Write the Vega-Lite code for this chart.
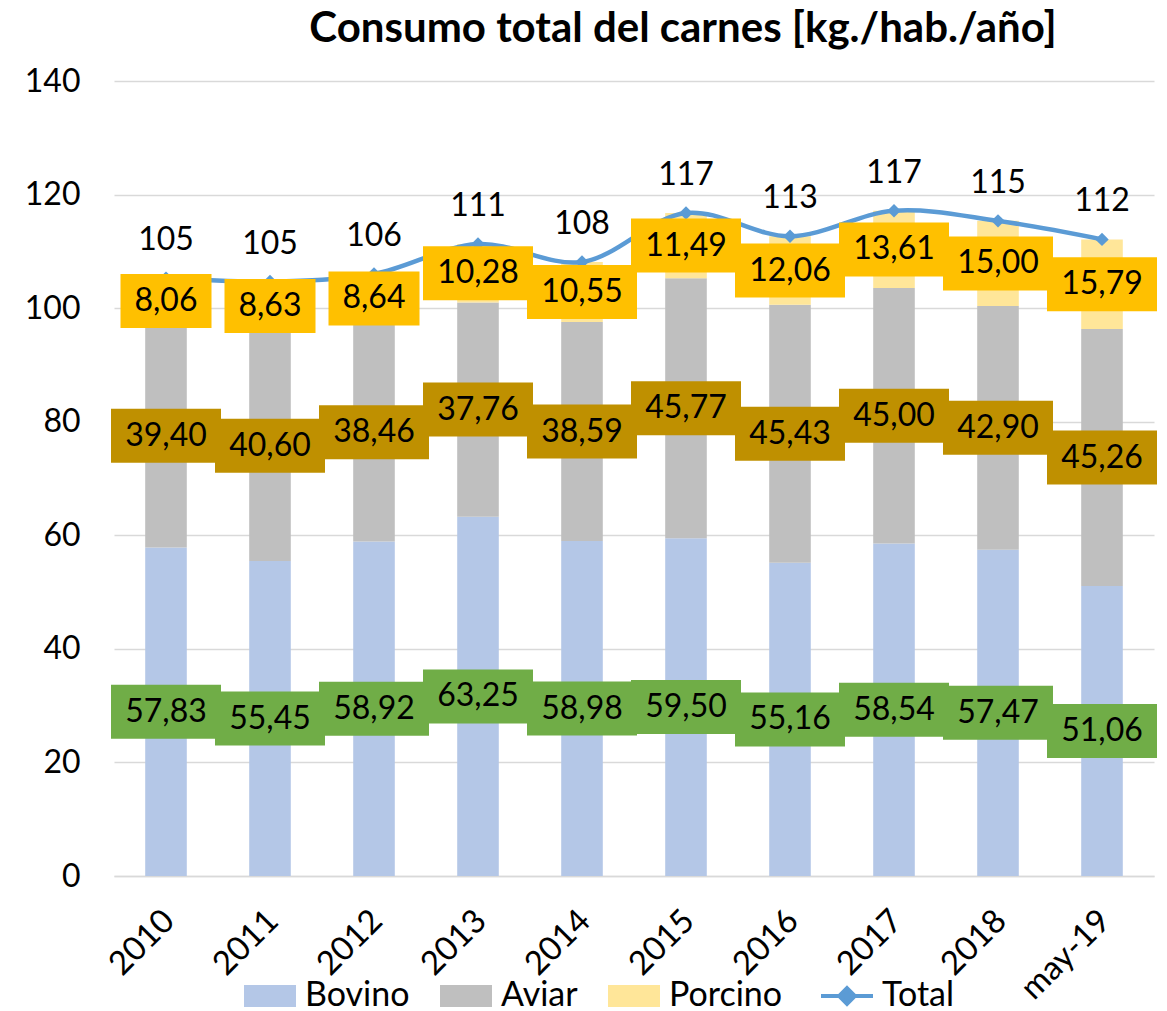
{
  "$schema": "https://vega.github.io/schema/vega-lite/v6.json",
  "width": 1040,
  "height": 795,
  "autosize": {"type": "none"},
  "padding": {"left": 114, "top": 81, "right": 13, "bottom": 135},
  "title": {"text": "Consumo total del carnes [kg./hab./año]", "font": "Lato", "fontSize": 42, "fontWeight": "bold", "color": "#000000", "anchor": "middle", "dx": 49, "offset": 14},
  "data": {"values": [
    {"anio": "2010", "tipo": "Bovino", "v": 57.83}, {"anio": "2010", "tipo": "Aviar", "v": 39.40}, {"anio": "2010", "tipo": "Porcino", "v": 8.06},
    {"anio": "2011", "tipo": "Bovino", "v": 55.45}, {"anio": "2011", "tipo": "Aviar", "v": 40.60}, {"anio": "2011", "tipo": "Porcino", "v": 8.63},
    {"anio": "2012", "tipo": "Bovino", "v": 58.92}, {"anio": "2012", "tipo": "Aviar", "v": 38.46}, {"anio": "2012", "tipo": "Porcino", "v": 8.64},
    {"anio": "2013", "tipo": "Bovino", "v": 63.25}, {"anio": "2013", "tipo": "Aviar", "v": 37.76}, {"anio": "2013", "tipo": "Porcino", "v": 10.28},
    {"anio": "2014", "tipo": "Bovino", "v": 58.98}, {"anio": "2014", "tipo": "Aviar", "v": 38.59}, {"anio": "2014", "tipo": "Porcino", "v": 10.55},
    {"anio": "2015", "tipo": "Bovino", "v": 59.50}, {"anio": "2015", "tipo": "Aviar", "v": 45.77}, {"anio": "2015", "tipo": "Porcino", "v": 11.49},
    {"anio": "2016", "tipo": "Bovino", "v": 55.16}, {"anio": "2016", "tipo": "Aviar", "v": 45.43}, {"anio": "2016", "tipo": "Porcino", "v": 12.06},
    {"anio": "2017", "tipo": "Bovino", "v": 58.54}, {"anio": "2017", "tipo": "Aviar", "v": 45.00}, {"anio": "2017", "tipo": "Porcino", "v": 13.61},
    {"anio": "2018", "tipo": "Bovino", "v": 57.47}, {"anio": "2018", "tipo": "Aviar", "v": 42.90}, {"anio": "2018", "tipo": "Porcino", "v": 15.00},
    {"anio": "may-19", "tipo": "Bovino", "v": 51.06}, {"anio": "may-19", "tipo": "Aviar", "v": 45.26}, {"anio": "may-19", "tipo": "Porcino", "v": 15.79}
  ]},
  "transform": [
    {"calculate": "indexof(['Bovino','Aviar','Porcino'], datum.tipo)", "as": "ord"},
    {"stack": "v", "groupby": ["anio"], "sort": [{"field": "ord", "order": "ascending"}], "as": ["y0", "y1"]},
    {"calculate": "(datum.y0 + datum.y1) / 2", "as": "mid"},
    {"calculate": "replace(format(datum.v, '.2f'), '.', ',')", "as": "lbl"}
  ],
  "encoding": {
    "x": {"field": "anio", "type": "nominal", "sort": null, "title": null,
      "scale": {"paddingInner": 0.6, "paddingOuter": 0.3},
      "axis": {"labelAngle": -45, "ticks": false, "domain": true, "domainColor": "#D9D9D9", "domainWidth": 1.5, "labelPadding": 28, "labelOffset": -8, "grid": false, "labelFontSize": 33}}
  },
  "layer": [
    {
      "mark": {"type": "bar"},
      "encoding": {
        "y": {"field": "y1", "type": "quantitative", "title": null,
          "scale": {"domain": [0, 140], "nice": false, "zero": true},
          "axis": {"values": [0, 20, 40, 60, 80, 100, 120, 140], "grid": true, "gridColor": "#D9D9D9", "gridWidth": 1.5, "domain": false, "ticks": false, "labelPadding": 34}},
        "y2": {"field": "y0"},
        "color": {"field": "tipo", "type": "nominal",
          "scale": {"domain": ["Bovino", "Aviar", "Porcino", "Total"], "range": ["#B4C7E7", "#BFBFBF", "#FFE699", "#5B9BD5"]},
          "legend": {"orient": "none", "legendX": 139, "legendY": 898, "direction": "horizontal", "title": null,
            "labelFont": "Lato", "labelFontSize": 34, "labelColor": "#000000", "symbolSize": 2704, "symbolOffset": 0,
            "labelOffset": 18, "columnPadding": 30, "symbolStrokeWidth": 0, "labelLimit": 300,
            "symbolType": "M-1,-0.42H1V0.42H-1Z",
            "encode": {"symbols": {"update": {
              "shape": {"signal": "datum.label === 'Total' ? 'M-1,0H1M0,-0.3L0.3,0L0,0.3L-0.3,0Z' : 'M-1,-0.42H1V0.42H-1Z'"},
              "strokeWidth": {"signal": "datum.label === 'Total' ? 4 : 0"},
              "stroke": {"signal": "datum.label === 'Total' ? '#5B9BD5' : 'transparent'"}
            }}}}}
      }
    },
    {
      "transform": [{"aggregate": [{"op": "sum", "field": "v", "as": "total"}], "groupby": ["anio"]}],
      "mark": {"type": "line", "interpolate": "catmull-rom", "color": "#5B9BD5", "strokeWidth": 4.5,
        "point": {"shape": "diamond", "size": 180, "filled": true, "color": "#5B9BD5"}},
      "encoding": {"y": {"field": "total", "type": "quantitative", "title": null}}
    },
    {
      "transform": [{"aggregate": [{"op": "sum", "field": "v", "as": "total"}], "groupby": ["anio"]}],
      "mark": {"type": "text", "font": "Lato", "fontSize": 32, "color": "#000000", "dy": -38, "baseline": "middle"},
      "encoding": {"y": {"field": "total", "type": "quantitative", "title": null},
        "text": {"field": "total", "type": "quantitative", "format": ".0f"}}
    },
    {
      "mark": {"type": "point", "filled": true, "opacity": 1, "size": 10000, "strokeWidth": 0},
      "encoding": {
        "y": {"field": "mid", "type": "quantitative", "title": null},
        "fill": {"field": "tipo", "type": "nominal", "legend": null,
          "scale": {"domain": ["Bovino", "Aviar", "Porcino"], "range": ["#70AD47", "#BF9000", "#FFC000"]}},
        "shape": {"condition": {"test": "datum.v < 10", "value": "M-0.91,-0.54H0.91V0.54H-0.91Z"}, "value": "M-1.1,-0.54H1.1V0.54H-1.1Z"}
      }
    },
    {
      "mark": {"type": "text", "font": "Lato", "fontSize": 32, "color": "#000000", "baseline": "middle"},
      "encoding": {"y": {"field": "mid", "type": "quantitative", "title": null},
        "text": {"field": "lbl", "type": "nominal"}}
    }
  ],
  "config": {
    "view": {"stroke": null},
    "axis": {"labelFont": "Lato", "labelFontSize": 32, "labelColor": "#000000"}
  }
}
